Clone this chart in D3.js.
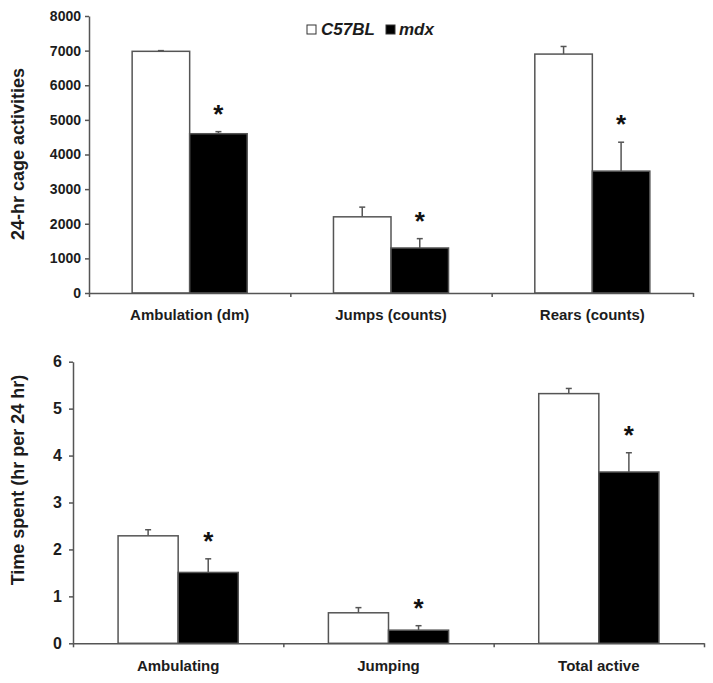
<!DOCTYPE html>
<html><head><meta charset="utf-8">
<script src="https://cdn.jsdelivr.net/npm/d3@7"></script>
<style>
body{margin:0;background:#fff}
text{font-family:"Liberation Sans",Arial,Helvetica,sans-serif;font-weight:bold;fill:#1c1c1c}
</style></head>
<body><svg id="chart" width="713" height="683"></svg>
<script>
// ---------- data ----------
const series = ["C57BL", "mdx"];
const seriesFill = ["#ffffff", "#000000"];

const topCategories = ["Ambulation (dm)", "Jumps (counts)", "Rears (counts)"];
const topC57 = [6980, 2200, 6900];
const topC57Err = [20, 280, 220];
const topMdx = [4600, 1300, 3520];
const topMdxErr = [60, 270, 835];
const topSig = [true, true, true];
const topTicks = [0, 1000, 2000, 3000, 4000, 5000, 6000, 7000, 8000];
const topYLabel = "24-hr cage activities";

const botCategories = ["Ambulating", "Jumping", "Total active"];
const botC57 = [2.29, 0.65, 5.32];
const botC57Err = [0.13, 0.11, 0.11];
const botMdx = [1.51, 0.28, 3.65];
const botMdxErr = [0.29, 0.095, 0.41];
const botSig = [true, true, true];
const botTicks = [0, 1, 2, 3, 4, 5, 6];
const botYLabel = "Time spent (hr per 24 hr)";

// ---------- drawing ----------
const svg = d3.select("#chart");
const axisColor = "#555";

function panel(cfg) {
  const g = svg.append("g");
  const y = d3.scaleLinear().domain([0, cfg.ticks[cfg.ticks.length - 1]]).range([cfg.y0, cfg.y1]);
  const x = d3.scaleBand().domain(cfg.categories).range([cfg.x0, cfg.x1]).padding(0);
  const xb = d3.scaleLinear().domain([0, cfg.categories.length]).range([cfg.x0, cfg.x1]);
  const x1 = d3.scaleBand().domain(series).range([0, x.bandwidth()]).paddingInner(0).paddingOuter(0.75);

  const rows = cfg.categories.map((c, i) => ({
    cat: c,
    vals: [
      {s: series[0], v: cfg.a[i], e: cfg.ae[i], fill: seriesFill[0], sig: false},
      {s: series[1], v: cfg.b[i], e: cfg.be[i], fill: seriesFill[1], sig: cfg.sig[i]}
    ]
  }));

  const grp = g.selectAll("g.cat").data(rows).join("g")
    .attr("transform", d => `translate(${x(d.cat)},0)`);

  const eb = grp.selectAll("g.err").data(d => d.vals).join("g");
  eb.append("line")
    .attr("x1", d => x1(d.s) + x1.bandwidth() / 2).attr("x2", d => x1(d.s) + x1.bandwidth() / 2)
    .attr("y1", d => y(d.v)).attr("y2", d => y(d.v + d.e))
    .attr("stroke", axisColor).attr("stroke-width", 1.5);
  eb.append("line")
    .attr("x1", d => x1(d.s) + x1.bandwidth() / 2 - 3).attr("x2", d => x1(d.s) + x1.bandwidth() / 2 + 3)
    .attr("y1", d => y(d.v + d.e)).attr("y2", d => y(d.v + d.e))
    .attr("stroke", axisColor).attr("stroke-width", 1.5);

  grp.selectAll("rect").data(d => d.vals).join("rect")
    .attr("x", d => x1(d.s)).attr("width", x1.bandwidth())
    .attr("y", d => y(d.v)).attr("height", d => y(0) - y(d.v))
    .attr("fill", d => d.fill).attr("stroke", axisColor).attr("stroke-width", 1.5);

  grp.selectAll("text.star").data(d => d.vals.filter(v => v.sig)).join("text")
    .attr("class", "star")
    .attr("x", d => x1(d.s) + x1.bandwidth() / 2)
    .attr("y", d => y(d.v + d.e) - 9)
    .attr("text-anchor", "middle").attr("font-size", 26)
    .style("fill", "#111")
    .text("*");

  const ya = g.append("g").attr("transform", `translate(${cfg.x0},0)`)
    .call(d3.axisLeft(y).tickValues(cfg.ticks).tickSize(4).tickPadding(cfg.tickPad).tickSizeOuter(0).tickFormat(d3.format("d")));
  ya.selectAll("path,line").attr("stroke", axisColor).attr("stroke-width", 1.5);
  ya.selectAll("text").attr("font-size", cfg.tickFont).attr("font-family", null).style("fill", "#1c1c1c");

  const xa = g.append("g").attr("transform", `translate(0,${cfg.y0})`)
    .call(d3.axisBottom(xb).tickValues(d3.range(cfg.categories.length + 1)).tickSize(4).tickSizeOuter(0).tickFormat(""));
  xa.selectAll("path,line").attr("stroke", axisColor).attr("stroke-width", 1.5);

  g.selectAll("text.xl").data(cfg.categories).join("text")
    .attr("class", "xl")
    .attr("x", d => x(d) + x.bandwidth() / 2)
    .attr("y", cfg.xLabelY)
    .attr("text-anchor", "middle").attr("font-size", 15)
    .text(d => d);

  g.append("text")
    .attr("transform", `translate(${cfg.yLabelX},${cfg.yLabelY}) rotate(-90)`)
    .attr("text-anchor", "middle").attr("font-size", 18)
    .text(cfg.yLabel);
}

panel({categories: topCategories, a: topC57, ae: topC57Err, b: topMdx, be: topMdxErr, sig: topSig,
  ticks: topTicks, x0: 89, x1: 693, y0: 293, y1: 16, tickFont: 14, tickPad: 4,
  xLabelY: 320, yLabel: topYLabel, yLabelX: 24, yLabelY: 154});

panel({categories: botCategories, a: botC57, ae: botC57Err, b: botMdx, be: botMdxErr, sig: botSig,
  ticks: botTicks, x0: 73, x1: 704, y0: 643.3, y1: 361.7, tickFont: 16, tickPad: 7,
  xLabelY: 671, yLabel: botYLabel, yLabelX: 24, yLabelY: 480});

const legend = svg.append("g").attr("transform", "translate(307,25)");
const items = legend.selectAll("g").data(series).join("g")
  .attr("transform", (d, i) => `translate(${i * 79},0)`);
items.append("rect").attr("width", 9).attr("height", 9)
  .attr("fill", (d, i) => seriesFill[i]).attr("stroke", "#333").attr("stroke-width", 1);
items.append("text").attr("x", (d, i) => i === 0 ? 14 : 13).attr("y", 9.5)
  .attr("font-size", 17).attr("font-style", "italic").text(d => d);
</script>
</body></html>
